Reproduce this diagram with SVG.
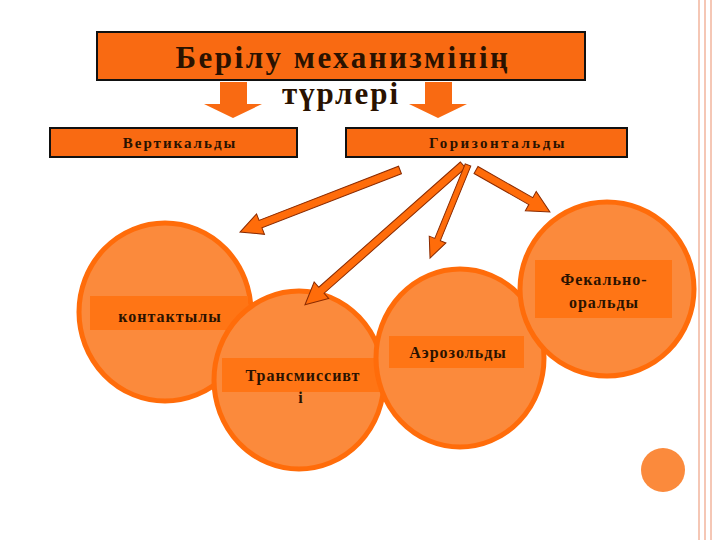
<svg xmlns="http://www.w3.org/2000/svg" width="720" height="540" viewBox="0 0 720 540">
<style>
.box{fill:#f96a12;stroke:#111;stroke-width:2}
.c{fill:#fb8a3c;stroke:#ff6c0a;stroke-width:5}
.band{fill:#ff7515}
.t{font-family:"Liberation Serif",serif;font-weight:bold;fill:#2a1200;text-anchor:middle}
.s{font-size:16px;letter-spacing:1px}
.arr{fill:#ff6c0a;stroke:#8a2a00;stroke-width:1}
</style>
<rect width="720" height="540" fill="#fff"/>
<g stroke="#f2b59c" stroke-width="1.5"><line x1="699" y1="0" x2="699" y2="540"/><line x1="705" y1="0" x2="705" y2="540"/><line x1="711" y1="0" x2="711" y2="540"/></g>
<g id="title"><rect class="box" x="97" y="32" width="488" height="48"/>
<text class="t" x="343" y="68" font-size="31" letter-spacing="2.5">Берілу механизмінің</text>
<text class="t" x="341" y="104" font-size="31" letter-spacing="2">түрлері</text></g>
<g id="blockarrows" fill="#f96a12">
<polygon points="220,82 247,82 247,104 262,104 233,118 204,104 220,104"/>
<polygon points="425,82 452,82 452,104 467,104 438,118 409,104 425,104"/>
</g>
<g id="vert"><rect class="box" x="50" y="128" width="247" height="29"/><text class="t" x="180" y="148" font-size="15" letter-spacing="2">Вертикальды</text></g>
<g id="horiz"><rect class="box" x="346" y="128" width="281" height="29"/><text class="t" x="498" y="148" font-size="15" letter-spacing="2.5">Горизонтальды</text></g>
<g id="contact"><ellipse class="c" cx="165" cy="312" rx="86" ry="89"/><rect class="band" x="90" y="296" width="158" height="34"/><text class="t s" x="170" y="322">контактылы</text></g>
<g id="trans"><ellipse class="c" cx="299" cy="380" rx="85" ry="89"/><rect class="band" x="222" y="358" width="162" height="34"/><text class="t s" x="303" y="381">Трансмиссивт</text><text class="t s" x="301" y="403">і</text></g>
<g id="aero"><ellipse class="c" cx="460" cy="358" rx="84" ry="89"/><rect class="band" x="389" y="336" width="135" height="32"/><text class="t s" x="458" y="358">Аэрозольды</text></g>
<g id="fecal"><ellipse class="c" cx="607" cy="289" rx="87" ry="87"/><rect class="band" x="535" y="260" width="137" height="58"/><text class="t s" x="604" y="285">Фекально-</text><text class="t s" x="604" y="308">оральды</text></g>
<g id="connectors">
<polygon class="arr" transform="translate(400,170) rotate(158.8)" points="0,-4 149.6,-4 149.6,-11 171.6,0 149.6,11 149.6,4 0,4"/>
<polygon class="arr" transform="translate(463,165) rotate(138.5)" points="0,-4 189,-4 189,-11 211,0 189,11 189,4 0,4"/>
<polygon class="arr" transform="translate(468,165) rotate(112.2)" points="0,-3 80.5,-3 80.5,-9 100.5,0 80.5,9 80.5,3 0,3"/>
<polygon class="arr" transform="translate(476,170) rotate(29.6)" points="0,-4 63,-4 63,-11 85,0 63,11 63,4 0,4"/>
</g>
<circle cx="663" cy="470" r="22" fill="#fb8a3c"/>
</svg>
